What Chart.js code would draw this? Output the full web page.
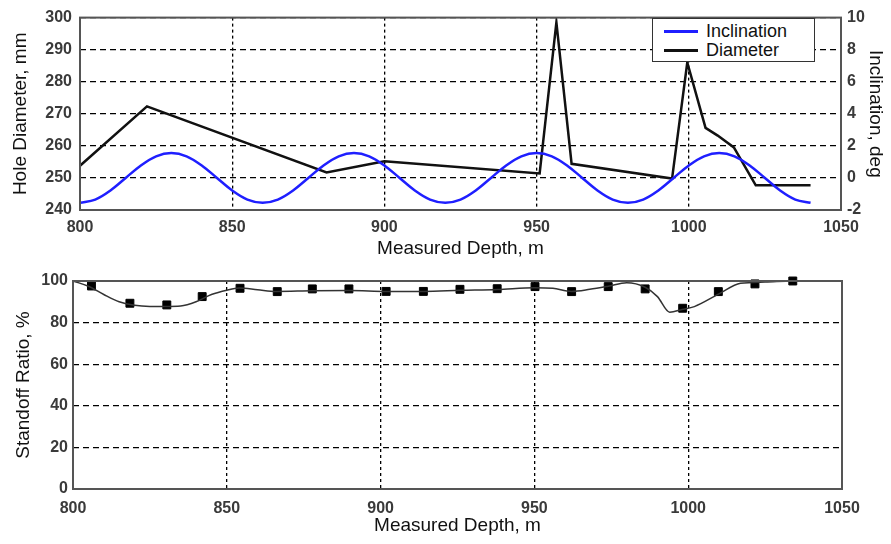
<!DOCTYPE html>
<html>
<head>
<meta charset="utf-8">
<script src="https://cdn.jsdelivr.net/npm/chart.js@4.4.0/dist/chart.umd.min.js"></script>
<style>
  body { margin: 0; background: #fff; }
  #wrap { position: relative; width: 891px; height: 544px; }
  canvas { position: absolute; left: 0; }
  #topChart { top: 0; }
  #bottomChart { top: 260px; }
  #legend {
    position: absolute; left: 652px; top: 18px; width: 161px; height: 42px;
    border: 1px solid #333; background: #fff;
    font: 18px "Liberation Sans", Arial, sans-serif; color: #111;
  }
  .row { position: absolute; left: 0; height: 20px; line-height: 20px; }
  .swatch { position: absolute; left: 11px; top: 9px; width: 34px; height: 3px; }
  .row span { position: absolute; left: 53px; white-space: nowrap; }
</style>
</head>
<body>
<div id="wrap">
  <canvas id="topChart" width="891" height="260"></canvas>
  <canvas id="bottomChart" width="891" height="284"></canvas>
  <div id="legend">
    <div class="row" style="top:2px"><div class="swatch" style="background:#1f1fff"></div><span>Inclination</span></div>
    <div class="row" style="top:21px"><div class="swatch" style="background:#111"></div><span>Diameter</span></div>
  </div>
</div>
<script>
// ---- data ----
var depthTicks = [800, 850, 900, 950, 1000, 1050];
var diamTicks = [240, 250, 260, 270, 280, 290, 300];
var inclTicks = [-2, 0, 2, 4, 6, 8, 10];
var standoffTicks = [0, 20, 40, 60, 80, 100];

// inclination, deg (right axis)
var inclDepth = [800, 805, 810, 815, 820, 825, 830, 835, 840, 845, 850, 855,
                 860, 865, 870, 875, 880, 885, 890, 895, 900, 905, 910, 915,
                 920, 925, 930, 935, 940, 945, 950, 955, 960, 965, 970, 975,
                 980, 985, 990, 995, 1000, 1005, 1010, 1015, 1020, 1025, 1030, 1035, 1040];
var inclValue = [-1.55, -1.35, -0.78, 0, 0.78, 1.35, 1.55, 1.35, 0.78, 0, -0.78, -1.35,
                 -1.55, -1.35, -0.78, 0, 0.78, 1.35, 1.55, 1.35, 0.78, 0, -0.78, -1.35,
                 -1.55, -1.35, -0.78, 0, 0.78, 1.35, 1.55, 1.35, 0.78, 0, -0.78, -1.35,
                 -1.55, -1.35, -0.78, 0, 0.78, 1.35, 1.55, 1.35, 0.78, 0, -0.78, -1.35, -1.55];

// hole diameter, mm (left axis)
var diamDepth = [800, 822, 881, 900, 951, 956.5, 961.5, 994.5, 999.5, 1005.5, 1009.5, 1014.8, 1022, 1040];
var diamValue = [253.8, 272.3, 251.7, 255.2, 251.4, 298.5, 254.4, 249.8, 286, 265.6, 263.2, 259.5, 247.7, 247.7];

// standoff ratio, % : calculated curve
var curveDepth = [800, 805, 810, 815, 820, 825, 830, 835, 840, 845, 850, 854, 860, 866, 878, 890, 902, 914,
                  926, 938, 950, 956, 962, 968, 974, 980, 986, 990, 994, 998, 1002, 1010, 1017, 1025, 1034, 1050];
var curveValue = [100, 97.5, 93.5, 90, 88.3, 87.8, 87.8, 88, 90, 93.5, 95.6, 96.6, 95.8, 95, 95.3, 95.4, 95, 95,
                  95.5, 95.9, 96.8, 96.5, 95, 96, 97.5, 99.2, 97, 92.5, 85, 86.3, 87.7, 93.8, 98.9, 99.5, 100, 100];

// standoff ratio, % : centralizer markers
var markDepth = [806, 818.5, 830.5, 842, 854.3, 866.4, 877.8, 889.7, 901.8, 913.9,
                 925.8, 937.9, 950.2, 962.1, 974, 986, 998.2, 1009.8, 1021.7, 1034];
var markValue = [97.6, 89.3, 88.5, 92.5, 96.5, 94.9, 96.2, 96.2, 95, 95,
                 96, 96.3, 97.3, 94.9, 97.3, 96.2, 86.9, 94.9, 98.6, 100];

function pts(xs, ys) {
  return xs.map(function (x, i) { return { x: x, y: ys[i] }; });
}

var tickFont = { family: '"Liberation Sans", Arial, sans-serif', size: 16, weight: 'bold' };
var titleFont = { family: '"Liberation Sans", Arial, sans-serif', size: 19 };
var tickColor = '#3a3a3a';

var frame = {
  id: 'frame',
  afterDraw: function (chart) {
    var a = chart.chartArea, ctx = chart.ctx;
    ctx.save();
    ctx.strokeStyle = '#555';
    ctx.lineWidth = 2;
    ctx.strokeRect(a.left, a.top, a.right - a.left, a.bottom - a.top);
    ctx.restore();
  }
};

function fixedTicks(list) {
  return function (scale) { scale.ticks = list.map(function (v) { return { value: v }; }); };
}

Chart.defaults.font.family = '"Liberation Sans", Arial, sans-serif';

new Chart(document.getElementById('topChart'), {
  type: 'line',
  data: {
    datasets: [{
      label: 'Inclination',
      data: pts(inclDepth, inclValue),
      yAxisID: 'y1',
      borderColor: '#1f1fff',
      borderWidth: 2.5,
      pointRadius: 0,
      tension: 0.4,
      cubicInterpolationMode: 'monotone'
    }, {
      label: 'Diameter',
      data: pts(diamDepth, diamValue),
      yAxisID: 'y',
      borderColor: '#111',
      borderWidth: 2.5,
      pointRadius: 0,
      tension: 0
    }]
  },
  options: {
    responsive: false,
    animation: false,
    layout: { padding: { top: 15, right: 0, bottom: 0, left: 0 } },
    plugins: { legend: { display: false }, tooltip: { enabled: false } },
    scales: {
      x: {
        type: 'linear', min: 800, max: 1050,
        afterBuildTicks: fixedTicks(depthTicks),
        afterFit: function (s) { s.height = 50; },
        grid: { color: '#000', lineWidth: 1.3, drawTicks: false },
        border: { display: false, dash: [3, 3] },
        ticks: { autoSkip: false, maxRotation: 0, padding: 8, font: tickFont, color: tickColor,
                 callback: function (v) { return String(v); } },
        title: { display: true, text: 'Measured Depth, m', font: titleFont, color: '#111', padding: { top: 0, bottom: 0 } }
      },
      y: {
        position: 'left', min: 240, max: 300,
        afterBuildTicks: fixedTicks(diamTicks),
        afterFit: function (s) { s.width = 80; },
        grid: { color: '#000', lineWidth: 1.3, drawTicks: false },
        border: { display: false, dash: [6, 4] },
        ticks: { padding: 8, font: tickFont, color: tickColor, callback: function (v) { return String(v); } },
        title: { display: true, text: 'Hole Diameter, mm', font: titleFont, color: '#111', padding: { top: 9, bottom: 0 } }
      },
      y1: {
        position: 'right', min: -2, max: 10,
        afterBuildTicks: fixedTicks(inclTicks),
        afterFit: function (s) { s.width = 50; },
        grid: { display: false, drawTicks: false },
        border: { display: false },
        ticks: { padding: 6, font: tickFont, color: tickColor, callback: function (v) { return String(v); } },
        title: { display: true, text: 'Inclination, deg', font: titleFont, color: '#111', padding: { top: 4, bottom: 0 } }
      }
    }
  },
  plugins: [frame]
});

new Chart(document.getElementById('bottomChart'), {
  type: 'line',
  data: {
    datasets: [{
      label: 'Standoff curve',
      data: pts(curveDepth, curveValue),
      borderColor: '#333',
      borderWidth: 1.5,
      pointRadius: 0,
      tension: 0.4,
      cubicInterpolationMode: 'monotone'
    }, {
      label: 'Centralizers',
      data: pts(markDepth, markValue),
      showLine: false,
      clip: false,
      pointStyle: 'rect',
      pointRadius: 5.6,
      pointBackgroundColor: '#000',
      pointBorderColor: '#000',
      pointBorderWidth: 1
    }]
  },
  options: {
    responsive: false,
    animation: false,
    layout: { padding: { top: 21, right: 49, bottom: 0, left: 0 } },
    plugins: { legend: { display: false }, tooltip: { enabled: false } },
    scales: {
      x: {
        type: 'linear', min: 800, max: 1050,
        afterBuildTicks: fixedTicks(depthTicks),
        afterFit: function (s) { s.height = 55; },
        grid: { color: '#000', lineWidth: 1.3, drawTicks: false },
        border: { display: false, dash: [3, 3] },
        ticks: { autoSkip: false, maxRotation: 0, padding: 10, font: tickFont, color: tickColor,
                 callback: function (v) { return String(v); } },
        title: { display: true, text: 'Measured Depth, m', font: titleFont, color: '#111', padding: { top: 0, bottom: 7 } }
      },
      y: {
        position: 'left', min: 0, max: 100,
        afterBuildTicks: fixedTicks(standoffTicks),
        afterFit: function (s) { s.width = 73; },
        grid: { color: '#000', lineWidth: 1.3, drawTicks: false },
        border: { display: false, dash: [6, 4] },
        ticks: { padding: 5, font: tickFont, color: tickColor, callback: function (v) { return String(v); } },
        title: { display: true, text: 'Standoff Ratio, %', font: titleFont, color: '#111', padding: { top: 12, bottom: 0 } }
      }
    }
  },
  plugins: [frame]
});
</script>
</body>
</html>
